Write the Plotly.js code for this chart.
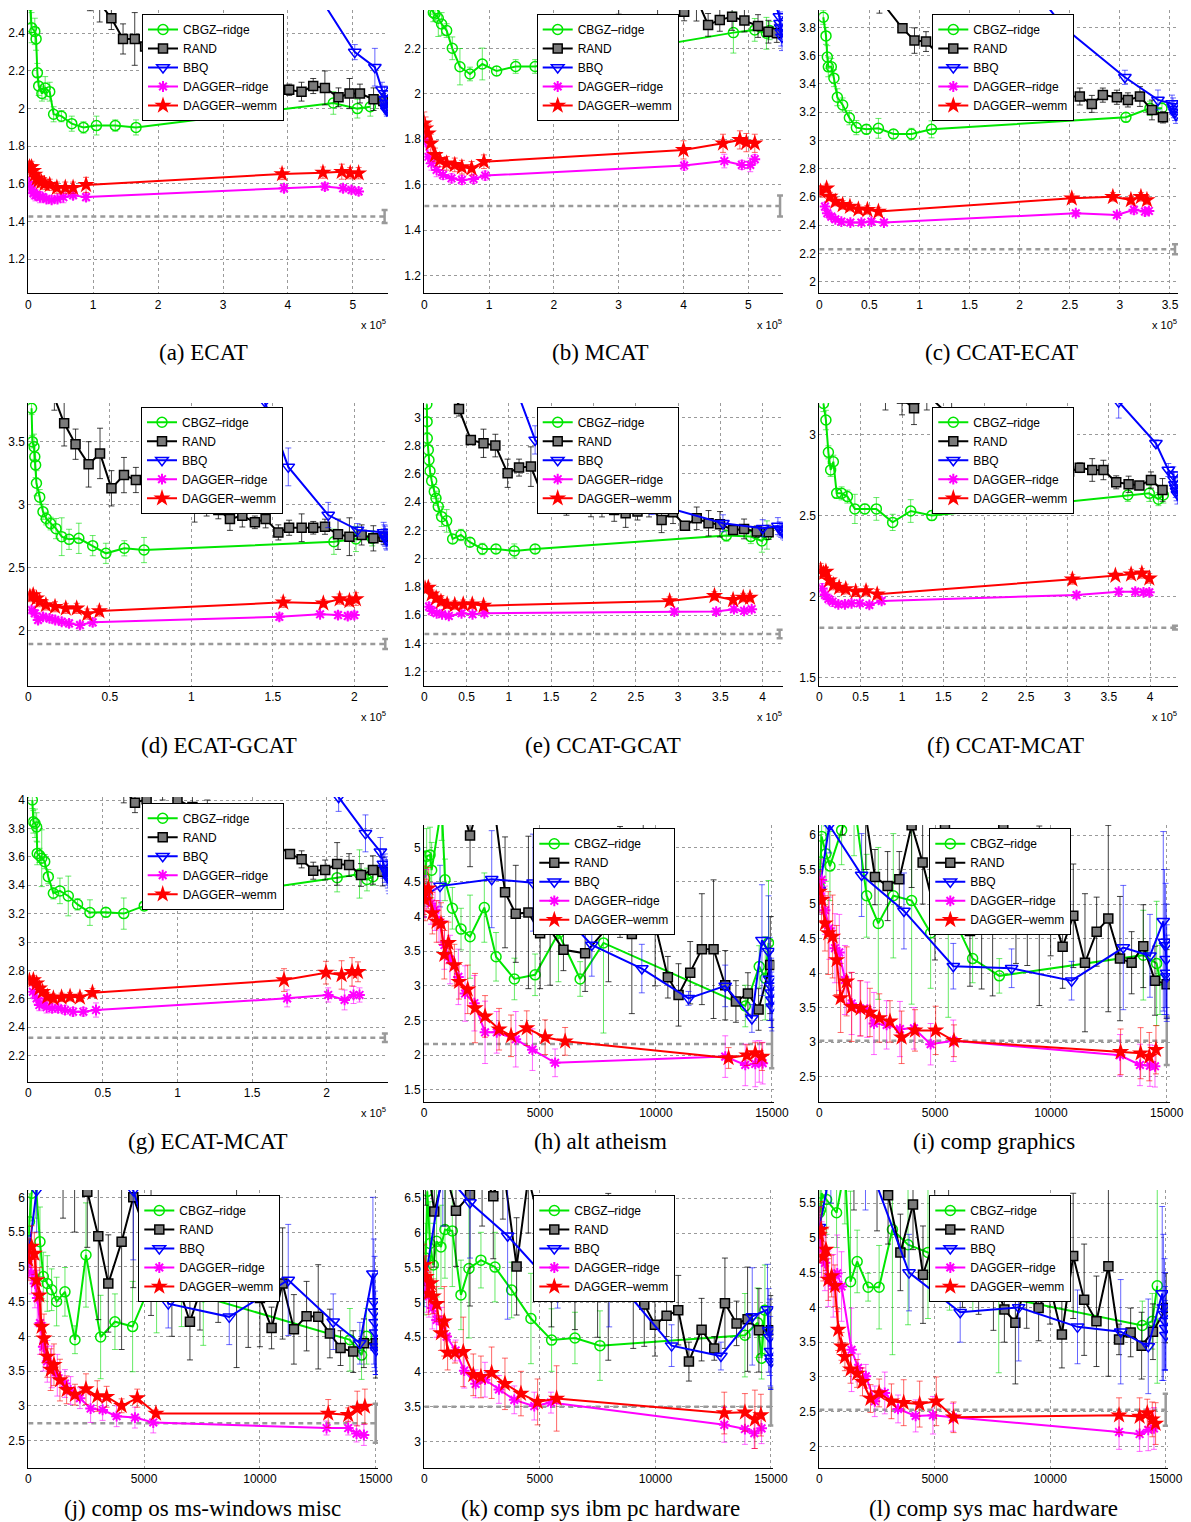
<!DOCTYPE html>
<html><head><meta charset="utf-8">
<script src="https://cdn.plot.ly/plotly-3.0.1.min.js"></script>
<style>html,body{margin:0;padding:0;background:#fff;} #chart{width:1191px;height:1522px;}</style>
</head><body><div id="chart"></div>
<script>
// ---------- DATA (x in units of 10^5 for panels a-g) ----------
const SERIES_NAMES = ['CBGZ–ridge','RAND','BBQ','DAGGER–ridge','DAGGER–wemm'];
const CAPTIONS = ['(a) ECAT','(b) MCAT','(c) CCAT-ECAT','(d) ECAT-GCAT','(e) CCAT-GCAT','(f) CCAT-MCAT','(g) ECAT-MCAT','(h) alt atheism','(i) comp graphics','(j) comp os ms-windows misc','(k) comp sys ibm pc hardware','(l) comp sys mac hardware'];

// (a) ECAT
const A_CBGZ_X=[0.03,0.05,0.10,0.12,0.14,0.16,0.21,0.26,0.33,0.39,0.51,0.67,0.85,1.05,1.34,1.66,4.70,5.07,5.27];
const A_CBGZ_Y=[2.55,2.43,2.41,2.37,2.19,2.12,2.08,2.11,2.09,1.97,1.96,1.92,1.90,1.91,1.91,1.90,2.03,2.00,2.01];
const A_CBGZ_E=[0.10,0.08,0.07,0.06,0.05,0.05,0.04,0.06,0.05,0.04,0.03,0.04,0.03,0.05,0.03,0.04,0.06,0.05,0.05];
const A_RAND_X=[0.05,0.30,0.60,0.95,1.10,1.28,1.46,1.64,1.80,2.00,2.20,2.40,2.60,2.80,3.00,3.20,3.40,3.60,3.83,4.02,4.21,4.39,4.57,4.78,4.95,5.11,5.32,5.47];
const A_RAND_Y=[3.20,2.90,2.75,2.62,2.56,2.48,2.37,2.37,2.33,2.30,2.27,2.24,2.21,2.19,2.17,2.15,2.13,2.12,2.11,2.10,2.09,2.12,2.11,2.06,2.08,2.08,2.05,2.04];
const A_RAND_E=[0.1,0.1,0.1,0.1,0.1,0.06,0.08,0.14,0.08,0.08,0.08,0.08,0.08,0.08,0.08,0.08,0.08,0.08,0.09,0.03,0.05,0.04,0.09,0.05,0.08,0.05,0.06,0.04];
const A_BBQ_X=[4.20,5.03,5.34,5.45,5.49,5.50,5.51,5.515,5.52,5.525];
const A_BBQ_Y=[2.75,2.30,2.22,2.10,2.08,2.05,2.03,2.01,2.00,1.99];
const A_BBQ_E=[0.05,0.04,0.10,0.04,0.04,0.04,0.04,0.03,0.03,0.03];
const A_DR_X=[0.01,0.03,0.05,0.08,0.11,0.14,0.18,0.22,0.28,0.36,0.45,0.54,0.69,0.89,3.94,4.57,4.85,4.98,5.09];
const A_DR_Y=[1.61,1.58,1.57,1.55,1.54,1.54,1.53,1.53,1.52,1.515,1.52,1.53,1.54,1.53,1.577,1.586,1.577,1.568,1.56];
const A_DR_E=[0.03,0.03,0.03,0.03,0.03,0.02,0.03,0.02,0.02,0.02,0.02,0.03,0.02,0.02,0.02,0.02,0.02,0.02,0.02];
const A_DW_X=[0.00,0.02,0.05,0.08,0.10,0.13,0.16,0.20,0.25,0.33,0.44,0.57,0.69,0.89,3.91,4.54,4.83,4.96,5.09];
const A_DW_Y=[1.68,1.69,1.69,1.67,1.65,1.63,1.62,1.61,1.60,1.595,1.58,1.58,1.58,1.595,1.653,1.66,1.665,1.657,1.657];
const A_DW_E=[0.03,0.03,0.03,0.03,0.03,0.03,0.03,0.03,0.03,0.03,0.03,0.03,0.03,0.04,0.03,0.03,0.04,0.03,0.03];
const A_BASE_X=[0,5.49], A_BASE_Y=[1.427,1.427], A_BASE_E=[0.035];

// (b) MCAT
const B_CBGZ_X=[0.10,0.14,0.165,0.216,0.267,0.345,0.432,0.55,0.705,0.895,1.116,1.41,1.71,4.77,5.10,5.28,5.33];
const B_CBGZ_Y=[2.40,2.357,2.351,2.332,2.307,2.278,2.20,2.119,2.087,2.131,2.10,2.12,2.12,2.269,2.281,2.266,2.278];
const B_CBGZ_E=[0.05,0.04,0.03,0.08,0.05,0.03,0.05,0.08,0.03,0.07,0.02,0.03,0.03,0.09,0.05,0.07,0.04];
const B_RAND_X=[0.2,1.0,2.0,3.0,3.6,4.01,4.20,4.38,4.56,4.75,4.94,5.15,5.31,5.44];
const B_RAND_Y=[3.0,2.7,2.55,2.45,2.42,2.361,2.42,2.303,2.325,2.339,2.322,2.298,2.273,2.266];
const B_RAND_E=[0.1,0.1,0.1,0.1,0.1,0.04,0.1,0.05,0.05,0.06,0.05,0.05,0.05,0.04];
const B_BBQ_X=[5.20,5.48,5.49,5.50,5.51,5.52];
const B_BBQ_Y=[2.60,2.34,2.31,2.29,2.27,2.25];
const B_BBQ_E=[0.05,0.05,0.05,0.05,0.06,0.06];
const B_DR_X=[0.01,0.06,0.11,0.19,0.29,0.42,0.58,0.76,0.94,4.01,4.63,4.90,5.03,5.10];
const B_DR_Y=[1.797,1.723,1.694,1.665,1.643,1.628,1.621,1.625,1.64,1.684,1.704,1.687,1.687,1.712];
const B_DR_E=[0.03,0.03,0.03,0.03,0.02,0.02,0.02,0.02,0.02,0.02,0.03,0.02,0.03,0.02];
const B_DW_X=[0.0,0.02,0.06,0.10,0.165,0.24,0.345,0.47,0.58,0.73,0.92,4.0,4.61,4.87,4.97,5.10];
const B_DW_Y=[1.87,1.848,1.826,1.782,1.731,1.709,1.694,1.687,1.677,1.672,1.701,1.753,1.782,1.797,1.785,1.782];
const B_DW_E=[0.05,0.05,0.04,0.04,0.03,0.03,0.03,0.03,0.03,0.03,0.03,0.04,0.04,0.04,0.04,0.04];
const B_BASE_X=[0,5.49], B_BASE_Y=[1.506,1.506], B_BASE_E=[0.046];

// (c) CCAT-ECAT
const C_CBGZ_X=[0.04,0.067,0.08,0.09,0.12,0.146,0.18,0.233,0.30,0.37,0.47,0.59,0.74,0.92,1.12,3.06,3.30,3.42];
const C_CBGZ_Y=[3.871,3.739,3.59,3.52,3.52,3.44,3.305,3.25,3.16,3.09,3.078,3.085,3.045,3.045,3.078,3.163,3.227,3.227];
const C_CBGZ_E=[0.05,0.06,0.08,0.07,0.06,0.06,0.06,0.05,0.05,0.05,0.03,0.07,0.03,0.04,0.06,0.03,0.05,0.04];
const C_RAND_X=[0.05,0.30,0.60,0.83,0.95,1.065,1.20,1.40,1.60,1.90,2.10,2.26,2.37,2.48,2.60,2.72,2.83,2.97,3.08,3.20,3.32,3.43];
const C_RAND_Y=[4.8,4.3,4.0,3.793,3.706,3.699,3.60,3.50,3.42,3.32,3.33,3.33,3.32,3.31,3.31,3.258,3.32,3.305,3.286,3.31,3.215,3.163];
const C_RAND_E=[0.1,0.1,0.1,0.03,0.09,0.07,0.08,0.08,0.08,0.06,0.06,0.05,0.06,0.05,0.06,0.06,0.05,0.05,0.05,0.07,0.07,0.04];
const C_BBQ_X=[1.0,2.0,2.44,3.05,3.38,3.52,3.53,3.54,3.55,3.56];
const C_BBQ_Y=[5.0,4.2,3.80,3.446,3.286,3.26,3.24,3.22,3.20,3.18];
const C_BBQ_E=[0.05,0.05,0.05,0.05,0.07,0.06,0.06,0.06,0.06,0.06];
const C_DR_X=[0.057,0.08,0.12,0.16,0.22,0.31,0.42,0.52,0.645,2.56,2.97,3.14,3.25,3.29];
const C_DR_Y=[2.531,2.484,2.46,2.441,2.425,2.418,2.418,2.425,2.418,2.484,2.472,2.508,2.496,2.50];
const C_DR_E=[0.03,0.03,0.02,0.02,0.02,0.02,0.02,0.02,0.02,0.02,0.02,0.03,0.03,0.02];
const C_DW_X=[0.013,0.073,0.106,0.16,0.233,0.306,0.39,0.48,0.59,2.52,2.93,3.11,3.21,3.27];
const C_DW_Y=[2.637,2.66,2.602,2.566,2.543,2.531,2.512,2.508,2.496,2.59,2.60,2.578,2.60,2.578];
const C_DW_E=[0.04,0.03,0.03,0.03,0.03,0.03,0.03,0.03,0.03,0.03,0.03,0.03,0.03,0.03];
const C_BASE_X=[0,3.55], C_BASE_Y=[2.229,2.229], C_BASE_E=[0.035];

// (d) ECAT-GCAT
const D_CBGZ_X=[0.020,0.025,0.035,0.040,0.045,0.05,0.07,0.09,0.11,0.137,0.17,0.205,0.25,0.31,0.395,0.476,0.589,0.71,1.875,2.01,2.11];
const D_CBGZ_Y=[3.765,3.50,3.46,3.38,3.315,3.17,3.06,2.944,2.89,2.85,2.81,2.746,2.725,2.733,2.675,2.614,2.654,2.64,2.706,2.728,2.733];
const D_CBGZ_E=[0.05,0.05,0.1,0.1,0.1,0.1,0.06,0.06,0.05,0.05,0.08,0.15,0.08,0.12,0.08,0.08,0.06,0.1,0.1,0.1,0.06];
const D_RAND_X=[0.05,0.16,0.22,0.29,0.37,0.44,0.51,0.587,0.66,0.726,0.80,0.88,0.947,1.02,1.094,1.166,1.237,1.313,1.39,1.456,1.534,1.60,1.677,1.748,1.82,1.90,1.97,2.045,2.117,2.18];
const D_RAND_Y=[4.3,3.85,3.646,3.48,3.32,3.407,3.13,3.235,3.196,3.143,3.13,3.05,3.01,3.082,3.01,2.958,2.886,2.913,2.86,2.886,2.78,2.817,2.817,2.817,2.825,2.765,2.746,2.76,2.733,2.746];
const D_RAND_E=[0.1,0.1,0.18,0.12,0.18,0.2,0.14,0.14,0.1,0.12,0.12,0.12,0.04,0.22,0.1,0.07,0.09,0.09,0.05,0.07,0.06,0.06,0.11,0.05,0.06,0.12,0.15,0.08,0.1,0.06];
const D_BBQ_X=[1.20,1.45,1.595,1.84,2.02,2.18,2.185,2.19,2.195,2.20];
const D_BBQ_Y=[4.5,3.82,3.30,2.918,2.80,2.78,2.76,2.75,2.73,2.72];
const D_BBQ_E=[0.1,0.1,0.15,0.1,0.05,0.08,0.08,0.08,0.08,0.08];
const D_DR_X=[0.02,0.04,0.06,0.09,0.13,0.165,0.205,0.25,0.317,0.395,1.54,1.79,1.90,1.96,2.00];
const D_DR_Y=[2.164,2.138,2.085,2.11,2.098,2.085,2.071,2.058,2.045,2.066,2.11,2.13,2.124,2.116,2.124];
const D_DR_E=[0.03,0.03,0.03,0.03,0.03,0.03,0.03,0.03,0.03,0.03,0.03,0.02,0.03,0.03,0.03];
const D_DW_X=[0.01,0.03,0.05,0.07,0.108,0.164,0.23,0.297,0.362,0.436,1.564,1.81,1.91,1.97,2.01];
const D_DW_Y=[2.27,2.283,2.257,2.23,2.204,2.19,2.177,2.177,2.132,2.156,2.225,2.217,2.251,2.236,2.251];
const D_DW_E=[0.04,0.04,0.04,0.04,0.04,0.04,0.04,0.04,0.04,0.04,0.04,0.03,0.04,0.04,0.05];
const D_BASE_X=[0,2.19], D_BASE_Y=[1.894,1.894], D_BASE_E=[0.04];

// (e) CCAT-GCAT
const E_CBGZ_X=[0.03,0.033,0.035,0.047,0.055,0.067,0.087,0.118,0.138,0.165,0.205,0.264,0.335,0.433,0.54,0.686,0.847,1.064,1.31,3.57,3.86,3.99,4.05];
const E_CBGZ_Y=[3.092,2.969,2.851,2.769,2.698,2.62,2.55,2.474,2.427,2.368,2.297,2.267,2.139,2.167,2.116,2.068,2.068,2.054,2.068,2.163,2.156,2.125,2.167];
const E_CBGZ_E=[0.03,0.03,0.04,0.04,0.04,0.04,0.05,0.05,0.05,0.06,0.07,0.08,0.03,0.04,0.03,0.04,0.03,0.05,0.03,0.04,0.05,0.08,0.1];
const E_RAND_X=[0.30,0.41,0.55,0.70,0.84,0.985,1.12,1.26,1.41,1.545,1.68,1.82,1.97,2.10,2.245,2.38,2.52,2.656,2.805,2.94,3.08,3.22,3.36,3.495,3.65,3.78,3.93,4.07];
const E_RAND_Y=[3.4,3.059,2.84,2.816,2.80,2.604,2.644,2.651,2.427,2.498,2.427,2.479,2.396,2.415,2.344,2.321,2.333,2.375,2.274,2.328,2.233,2.285,2.25,2.243,2.203,2.21,2.191,2.186];
const E_RAND_E=[0.1,0.05,0.03,0.1,0.08,0.1,0.06,0.14,0.07,0.1,0.12,0.14,0.1,0.12,0.08,0.1,0.06,0.08,0.09,0.08,0.03,0.08,0.09,0.09,0.03,0.07,0.04,0.05];
const E_BBQ_X=[0.90,1.31,1.80,2.69,3.53,4.00,4.18,4.20,4.22,4.24,4.26];
const E_BBQ_Y=[3.50,2.84,2.51,2.392,2.25,2.215,2.23,2.21,2.20,2.19,2.18];
const E_BBQ_E=[0.1,0.1,0.05,0.08,0.06,0.06,0.06,0.05,0.05,0.05,0.05];
const E_DR_X=[0.055,0.09,0.146,0.21,0.29,0.44,0.57,0.71,2.955,3.45,3.66,3.78,3.87];
const E_DR_Y=[1.66,1.63,1.613,1.606,1.594,1.613,1.606,1.613,1.625,1.625,1.642,1.63,1.642];
const E_DR_E=[0.03,0.03,0.02,0.02,0.02,0.02,0.02,0.02,0.02,0.02,0.02,0.02,0.02];
const E_DW_X=[0.008,0.047,0.087,0.14,0.197,0.27,0.36,0.46,0.567,0.70,2.90,3.43,3.65,3.77,3.85];
const E_DW_Y=[1.79,1.795,1.748,1.72,1.696,1.677,1.672,1.677,1.677,1.667,1.70,1.736,1.708,1.724,1.724];
const E_DW_E=[0.03,0.03,0.03,0.03,0.03,0.03,0.03,0.03,0.03,0.03,0.03,0.03,0.03,0.03,0.03];
const E_BASE_X=[0,4.2], E_BASE_Y=[1.467,1.467], E_BASE_E=[0.03];

// (f) CCAT-MCAT
const F_CBGZ_X=[0.05,0.08,0.11,0.137,0.17,0.21,0.27,0.34,0.43,0.55,0.69,0.887,1.105,1.36,3.73,3.99,4.10,4.16];
const F_CBGZ_Y=[3.19,3.088,2.889,2.78,2.831,2.636,2.636,2.616,2.54,2.54,2.54,2.457,2.527,2.499,2.626,2.636,2.60,2.626];
const F_CBGZ_E=[0.05,0.06,0.04,0.04,0.04,0.03,0.04,0.04,0.09,0.03,0.07,0.05,0.07,0.03,0.04,0.05,0.04,0.05];
const F_RAND_X=[0.05,0.50,0.80,1.00,1.145,1.30,1.60,1.90,2.20,2.50,2.80,3.02,3.15,3.30,3.435,3.59,3.74,3.87,4.01,4.15];
const F_RAND_Y=[4.2,3.5,3.3,3.22,3.16,3.25,3.10,3.00,2.92,2.86,2.80,2.77,2.794,2.78,2.78,2.704,2.692,2.684,2.718,2.657];
const F_RAND_E=[0.1,0.1,0.15,0.1,0.1,0.1,0.1,0.1,0.1,0.1,0.1,0.08,0.03,0.07,0.06,0.04,0.05,0.02,0.05,0.07];
const F_BBQ_X=[3.00,3.62,4.07,4.22,4.28,4.29,4.30,4.31,4.32,4.33];
const F_BBQ_Y=[3.80,3.20,2.945,2.78,2.75,2.72,2.69,2.67,2.65,2.63];
const F_BBQ_E=[0.1,0.1,0.02,0.04,0.05,0.05,0.05,0.06,0.06,0.06];
const F_DR_X=[0.036,0.07,0.11,0.16,0.23,0.31,0.39,0.49,0.605,0.754,3.11,3.62,3.82,3.92,3.99];
const F_DR_Y=[2.05,2.01,1.985,1.968,1.952,1.952,1.958,1.958,1.948,1.973,2.009,2.03,2.03,2.026,2.026];
const F_DR_E=[0.03,0.03,0.03,0.03,0.02,0.02,0.02,0.02,0.02,0.02,0.02,0.02,0.02,0.02,0.02];
const F_DW_X=[0.016,0.05,0.08,0.12,0.17,0.24,0.32,0.44,0.565,0.70,3.06,3.58,3.77,3.90,3.99];
const F_DW_Y=[2.164,2.143,2.153,2.10,2.071,2.055,2.046,2.03,2.034,2.014,2.106,2.129,2.137,2.143,2.112];
const F_DW_E=[0.04,0.03,0.03,0.03,0.03,0.03,0.03,0.03,0.03,0.03,0.03,0.02,0.03,0.03,0.03];
const F_BASE_X=[0,4.3], F_BASE_Y=[1.808,1.808], F_BASE_E=[0.012];

// (g) ECAT-MCAT
const G_CBGZ_X=[0.027,0.034,0.045,0.056,0.06,0.075,0.09,0.11,0.134,0.168,0.212,0.268,0.33,0.413,0.52,0.64,0.777,2.07,2.22,2.27,2.31];
const G_CBGZ_Y=[4.0,3.847,3.836,3.81,3.624,3.61,3.59,3.566,3.46,3.343,3.36,3.324,3.265,3.207,3.209,3.20,3.254,3.453,3.479,3.44,3.46];
const G_CBGZ_E=[0.06,0.08,0.1,0.1,0.08,0.05,0.2,0.05,0.05,0.04,0.09,0.14,0.04,0.09,0.03,0.11,0.02,0.1,0.17,0.08,0.06];
const G_RAND_X=[0.05,0.30,0.64,0.715,0.793,0.90,1.00,1.10,1.20,1.30,1.40,1.50,1.60,1.676,1.754,1.832,1.91,1.99,2.07,2.15,2.23,2.31,2.375];
const G_RAND_Y=[5.0,4.4,4.08,3.981,4.005,4.1,4.0,3.95,3.9,3.85,3.8,3.75,3.7,3.676,3.62,3.582,3.502,3.507,3.55,3.542,3.472,3.507,3.495];
const G_RAND_E=[0.1,0.1,0.1,0.07,0.1,0.1,0.1,0.1,0.1,0.1,0.1,0.1,0.14,0.03,0.03,0.06,0.06,0.07,0.15,0.08,0.08,0.1,0.1];
const G_BBQ_X=[1.70,2.08,2.26,2.36,2.38,2.39,2.40,2.41,2.415,2.42];
const G_BBQ_Y=[4.6,4.02,3.765,3.636,3.55,3.52,3.50,3.48,3.46,3.44];
const G_BBQ_E=[0.1,0.1,0.13,0.1,0.1,0.1,0.1,0.1,0.1,0.1];
const G_DR_X=[0.03,0.056,0.074,0.10,0.123,0.16,0.2,0.246,0.30,0.369,0.454,1.735,2.01,2.12,2.18,2.22];
const G_DR_Y=[2.65,2.603,2.556,2.568,2.54,2.533,2.533,2.521,2.509,2.509,2.521,2.603,2.627,2.592,2.627,2.627];
const G_DR_E=[0.04,0.04,0.04,0.04,0.04,0.03,0.03,0.03,0.03,0.03,0.05,0.06,0.05,0.07,0.06,0.05];
const G_DW_X=[0.007,0.034,0.056,0.075,0.096,0.127,0.168,0.223,0.28,0.346,0.43,1.714,1.995,2.10,2.17,2.21];
const G_DW_Y=[2.728,2.732,2.709,2.674,2.65,2.615,2.603,2.61,2.615,2.61,2.643,2.732,2.784,2.768,2.79,2.79];
const G_DW_E=[0.03,0.03,0.03,0.03,0.03,0.03,0.03,0.03,0.03,0.03,0.03,0.08,0.08,0.1,0.1,0.07];
const G_BASE_X=[0,2.39], G_BASE_Y=[2.326,2.326], G_BASE_E=[0.03];

// (h) alt atheism
const H_CBGZ_X=[30,115,260,330,762,906,1222,1596,1985,2600,3106,3897,4789,5795,6730,7737,13850,14450,14710,14850];
const H_CBGZ_Y=[4.55,4.87,4.89,4.67,5.60,4.53,4.12,3.82,3.71,4.13,3.42,3.10,3.16,3.76,3.10,3.62,2.71,3.28,3.11,3.62];
const H_CBGZ_E=[0.4,0.4,0.4,0.4,0.5,0.3,0.3,0.3,0.6,0.5,0.35,0.3,0.3,0.7,0.25,1.3,0.3,0.3,0.6,0.9];
const H_RAND_X=[100,1300,1985,2800,3494,3955,4501,5005,5436,6011,6946,7952,8450,8959,9450,9965,10512,10972,11475,11979,12482,12985,13445,13963,14423,14926];
const H_RAND_Y=[6.5,6.0,5.17,6.2,4.35,4.04,4.06,3.76,3.81,3.52,3.47,3.86,4.5,3.75,4.6,3.90,3.125,2.87,3.19,3.53,3.53,3.01,2.775,2.89,2.66,3.30];
const H_RAND_E=[0.6,0.6,0.45,0.6,0.8,0.7,1.1,0.8,0.8,0.3,0.55,0.8,0.8,1.15,0.8,0.9,0.3,0.45,0.45,0.8,1.0,0.5,0.3,0.3,0.3,0.7];
const H_BBQ_X=[0,690,2919,4700,7233,9390,11403,12985,14135,14567,14850,14900,14950,14975,15000,15010];
const H_BBQ_Y=[4.29,4.44,4.54,4.49,3.59,3.25,2.82,3.00,2.53,3.66,3.50,3.10,3.00,2.90,2.80,2.70];
const H_BBQ_E=[0.3,0.3,0.7,0.7,0.45,0.35,0.1,0.3,0.2,0.8,0.8,0.6,0.5,0.5,0.4,0.35];
const H_DR_X=[0,100,300,475,647,877,1122,1481,1769,2171,2632,3135,3955,4674,5651,12985,13848,14279,14450,14600];
const H_DR_Y=[4.29,4.38,4.19,4.10,3.93,3.59,3.38,3.13,2.89,2.75,2.33,2.33,2.23,2.08,1.89,1.98,1.86,1.875,1.91,1.885];
const H_DR_E=[0.3,0.3,0.3,0.3,0.3,0.35,0.35,0.4,0.4,0.4,0.45,0.3,0.4,0.3,0.2,0.3,0.3,0.33,0.3,0.3];
const H_DW_X=[0,43,187,360,546,733,877,1050,1309,1510,1884,2200,2632,3236,3753,4429,5220,6083,13129,13920,14279,14567];
const H_DW_Y=[4.38,4.24,4.41,4.05,3.93,3.90,3.45,3.62,3.30,3.06,2.95,2.68,2.56,2.375,2.28,2.39,2.26,2.20,1.96,2.00,2.03,1.98];
const H_DW_E=[0.35,0.3,0.3,0.3,0.3,0.3,0.35,0.3,0.3,0.25,0.35,0.5,0.3,0.3,0.3,0.25,0.25,0.2,0.15,0.15,0.15,0.2];
const H_BASE_X=[0,15000], H_BASE_Y=[2.163,2.163], H_BASE_E=[0.35];

// (i) comp graphics
const I_CBGZ_X=[0,50,100,288,460,964,1500,2043,2547,3195,3986,4806,5569,6619,7771,13987,14563,14707];
const I_CBGZ_Y=[5.25,5.61,5.98,5.73,5.55,6.07,6.5,5.12,4.72,5.12,5.05,4.58,4.96,4.21,3.96,4.26,4.14,3.90];
const I_CBGZ_E=[0.4,0.4,0.4,0.4,0.5,0.5,0.8,0.6,1.1,0.9,1.5,0.8,1.6,0.35,0.25,0.65,0.9,0.5];
const I_RAND_X=[100,1000,2000,2403,2950,3454,3986,4461,4993,5425,6504,7008,7483,7943,8490,8980,9497,9987,10505,10965,11469,11973,12476,12980,13483,13987,14491,14994];
const I_RAND_Y=[7.0,6.8,6.3,5.39,5.26,5.36,6.14,5.60,4.89,6.11,4.61,4.77,4.77,6.12,4.94,4.71,4.83,4.95,4.38,4.83,4.15,4.60,4.79,4.21,4.15,4.39,3.89,3.84];
const I_RAND_E=[0.8,0.8,0.8,0.4,0.5,0.4,0.9,0.6,0.7,0.9,0.8,1.0,1.1,0.9,0.8,0.6,1.3,0.7,0.6,0.75,1.0,0.5,1.35,0.9,0.45,0.6,0.5,0.5];
const I_BBQ_X=[0,432,1827,3655,5785,8303,10893,13123,14275,14850,14900,14950,14980,15000,15010];
const I_BBQ_Y=[5.20,6.14,5.42,4.90,4.10,4.07,3.89,4.37,4.25,4.75,4.45,4.40,4.20,4.00,3.95];
const I_BBQ_E=[0.3,0.4,0.6,0.55,0.33,0.28,0.28,0.9,0.6,1.3,1.05,0.9,0.8,0.7,0.6];
const I_DR_X=[0,100,245,432,676,863,1108,1396,1756,2072,2360,2907,3482,4087,4806,5785,12980,13843,14275,14491];
const I_DR_Y=[5.15,5.35,4.91,4.65,4.36,4.30,3.90,3.56,3.49,3.47,3.27,3.25,3.19,3.20,2.97,3.02,2.81,2.67,2.66,2.65];
const I_DR_E=[0.3,0.3,0.35,0.45,0.5,0.55,0.5,0.45,0.4,0.4,0.45,0.35,0.4,0.3,0.3,0.3,0.3,0.3,0.3,0.3];
const I_DW_X=[0,100,245,388,576,748,921,1180,1396,1784,2187,2590,3051,3554,4130,5022,5814,13008,13872,14246,14534];
const I_DW_Y=[5.18,5.06,4.72,4.58,4.53,4.19,3.64,3.88,3.51,3.49,3.43,3.35,3.30,3.07,3.17,3.17,3.02,2.86,2.84,2.79,2.89];
const I_DW_E=[0.3,0.3,0.4,0.6,0.6,0.5,0.5,0.5,0.5,0.4,0.35,0.35,0.3,0.38,0.3,0.35,0.23,0.33,0.37,0.35,0.35];
const I_BASE_X=[0,15000], I_BASE_Y=[3.02,3.02], I_BASE_E=[0.35];

// (j) comp os ms-windows misc
const J_CBGZ_X=[0,50,144,300,504,648,820,1007,1223,1583,2015,2490,3123,3741,4504,5540,6619,7555,13887,14390,14606];
const J_CBGZ_Y=[5.31,5.65,6.06,6.3,5.36,4.86,4.76,4.67,4.50,4.64,3.95,5.17,3.99,4.21,4.14,4.95,4.64,4.57,3.95,3.73,4.00];
const J_CBGZ_E=[0.4,0.4,0.4,0.6,0.5,0.35,0.4,0.3,0.35,0.35,0.2,0.75,0.6,0.4,0.65,0.9,0.5,0.7,0.45,0.35,0.4];
const J_RAND_X=[100,1500,2000,2547,3022,3454,4029,4533,5300,6200,6979,7411,8200,8994,9497,10001,10505,10980,11469,12016,12519,13023,13483,14030,14491,15009];
const J_RAND_Y=[7.0,6.5,6.3,6.08,5.44,4.76,5.36,6.0,5.3,5.0,4.21,4.64,5.0,4.9,4.74,4.55,4.12,4.76,4.10,4.29,4.28,4.04,3.83,3.78,3.90,3.90];
const J_RAND_E=[0.8,0.8,0.8,0.8,1.2,0.7,1.55,1.3,1.0,1.0,0.55,0.55,0.8,1.35,0.9,0.7,0.3,0.8,0.5,0.5,0.75,0.35,0.25,0.3,0.35,0.5];
const J_BBQ_X=[0,360,2000,4533,6044,8677,11224,13167,14318,14880,14920,14950,14975,15000,15010,15020];
const J_BBQ_Y=[5.15,6.10,7.0,6.10,4.47,4.28,4.81,4.21,3.90,4.90,4.50,4.35,4.20,4.05,3.85,3.80];
const J_BBQ_E=[0.3,0.6,0.8,1.0,0.35,0.4,0.8,0.4,0.3,1.1,0.9,0.8,0.7,0.6,0.4,0.35];
const J_DR_X=[0,144,288,389,504,648,820,1007,1252,1583,1827,2230,2691,3209,3813,4605,5396,12879,13814,14174,14491];
const J_DR_Y=[5.12,4.91,4.76,4.55,4.19,3.85,3.64,3.56,3.44,3.32,3.22,3.11,2.96,2.94,2.85,2.83,2.76,2.68,2.68,2.60,2.58];
const J_DR_E=[0.3,0.3,0.35,0.4,0.45,0.35,0.3,0.3,0.3,0.2,0.2,0.15,0.2,0.15,0.15,0.15,0.15,0.1,0.1,0.12,0.15];
const J_DW_X=[0,144,259,360,475,576,676,820,964,1108,1367,1655,2015,2490,2979,3382,4029,4706,5511,12951,13814,14203,14534];
const J_DW_Y=[5.10,5.29,5.19,4.81,4.59,4.14,3.97,3.71,3.52,3.59,3.37,3.23,3.16,3.24,3.14,3.13,3.00,3.11,2.89,2.89,2.87,2.96,2.99];
const J_DW_E=[0.3,0.3,0.3,0.3,0.4,0.4,0.35,0.3,0.3,0.3,0.3,0.2,0.15,0.22,0.22,0.15,0.1,0.13,0.05,0.2,0.1,0.25,0.25];
const J_BASE_X=[0,15000], J_BASE_Y=[2.75,2.75], J_BASE_E=[0.28];

// (k) comp sys ibm pc hardware
const K_CBGZ_X=[0,60,130,245,389,533,721,894,1211,1586,1932,2451,3057,3778,4614,5508,6518,7599,13872,14420,14593,14737];
const K_CBGZ_Y=[5.32,5.64,6.6,5.85,5.54,5.88,5.80,6.05,6.03,5.11,5.49,5.61,5.51,5.18,4.77,4.46,4.49,4.38,4.53,4.71,4.20,4.89];
const K_CBGZ_E=[0.5,0.5,0.6,0.6,0.6,0.8,0.6,0.7,0.8,0.5,1.0,0.4,0.5,0.4,0.65,0.45,0.37,0.5,0.6,0.5,0.3,0.65];
const K_RAND_X=[50,433,900,1370,1976,2500,2985,3400,3994,4500,5500,6518,7498,7960,9041,9517,9979,10483,10988,11449,11998,12545,13007,13511,13987,14477,14997];
const K_RAND_Y=[7.2,6.31,6.9,6.32,6.55,6.9,6.53,7.0,5.52,6.8,5.45,5.41,5.40,5.37,5.24,4.97,4.68,4.81,4.89,4.15,4.61,4.34,4.99,4.70,4.76,4.60,4.60];
const K_RAND_E=[0.8,0.8,0.8,0.8,1.6,0.8,0.9,0.8,0.7,0.8,0.8,0.8,0.9,1.2,0.9,0.6,0.45,0.3,0.5,0.28,0.45,0.17,0.65,0.32,0.75,0.6,0.5];
const K_BBQ_X=[0,800,1976,3605,5768,8000,10700,12834,14189,14850,14900,14950,14980,15000,15010];
const K_BBQ_Y=[5.24,6.9,6.44,5.96,5.17,5.45,4.38,4.23,4.80,4.90,4.60,4.50,4.30,4.20,4.15];
const K_BBQ_E=[0.3,0.8,0.8,1.2,0.25,0.8,0.3,0.2,0.7,0.65,0.6,0.55,0.5,0.45,0.4];
const K_DR_X=[0,100,200,346,533,750,966,1355,1730,2221,2624,3230,3893,4758,5480,12978,13872,14276,14593];
const K_DR_Y=[5.37,5.16,5.09,4.92,4.75,4.73,4.51,4.31,4.02,3.83,3.89,3.75,3.60,3.51,3.56,3.24,3.18,3.12,3.19];
const K_DR_E=[0.3,0.3,0.3,0.3,0.25,0.2,0.2,0.15,0.25,0.2,0.25,0.2,0.2,0.2,0.15,0.25,0.22,0.22,0.22];
const K_DW_X=[0,80,173,288,389,533,721,865,1009,1327,1687,2120,2451,2913,3490,4182,4903,5725,12978,13872,14304,14564];
const K_DW_Y=[5.54,5.37,5.13,5.28,5.09,4.98,4.56,4.73,4.28,4.28,4.29,3.96,3.93,3.99,3.83,3.69,3.57,3.62,3.41,3.42,3.32,3.38];
const K_DW_E=[0.3,0.3,0.3,0.3,0.25,0.25,0.25,0.5,0.25,0.15,0.5,0.3,0.3,0.37,0.37,0.32,0.33,0.47,0.3,0.27,0.42,0.3];
const K_BASE_X=[0,15000], K_BASE_Y=[3.50,3.50], K_BASE_E=[0.27];

// (l) comp sys mac hardware
const L_CBGZ_X=[0,50,100,317,748,1108,1353,1640,2115,2590,3166,3842,4706,5641,6648,7771,13987,14419,14635];
const L_CBGZ_Y=[5.36,5.40,5.64,5.55,5.36,6.0,4.37,4.66,4.29,4.29,5.12,4.90,4.79,4.76,4.64,4.16,3.74,3.80,4.31];
const L_CBGZ_E=[0.4,0.4,0.5,0.5,0.5,0.8,1.3,0.45,0.2,0.6,1.8,1.15,0.95,0.8,0.7,1.1,0.35,0.4,1.4];
const L_RAND_X=[100,1500,2500,2979,3511,4058,4490,5000,5600,6200,6900,7540,8015,8490,8980,9497,9987,10505,10994,11469,12001,12519,12980,13483,13958,14448,15023];
const L_RAND_Y=[6.5,6.2,5.9,5.61,4.79,5.48,4.47,5.0,4.9,4.8,4.7,4.47,3.97,3.78,4.4,3.99,4.31,3.61,4.74,4.11,3.80,4.59,3.54,3.64,3.45,3.65,3.99];
const L_RAND_E=[0.8,0.8,0.8,0.7,0.55,0.65,0.7,0.8,0.8,0.8,0.8,0.8,0.47,0.88,0.7,0.47,0.55,0.48,0.9,0.8,0.65,1.58,0.22,0.35,0.48,0.4,0.5];
const L_BBQ_X=[0,500,2000,3885,6101,8634,11181,13052,14246,14850,14900,14950,14980,15000,15010];
const L_BBQ_Y=[5.15,6.0,6.2,4.50,3.93,4.00,3.72,3.65,3.44,4.20,4.00,3.90,3.80,3.70,3.60];
const L_BBQ_E=[0.3,0.5,0.8,0.55,0.43,0.77,0.53,0.75,0.68,1.25,1.05,0.8,0.7,0.6,0.5];
const L_DR_X=[0,100,245,389,604,777,964,1396,1683,2015,2403,2835,3410,4173,4921,5785,12980,13872,14246,14491];
const L_DR_Y=[5.04,4.83,4.64,4.41,4.31,4.49,4.30,3.39,3.13,3.01,2.65,2.77,2.54,2.44,2.45,2.42,2.21,2.18,2.24,2.26];
const L_DR_E=[0.4,0.4,0.4,0.4,0.45,0.55,0.5,0.6,0.2,0.17,0.22,0.3,0.2,0.23,0.27,0.2,0.25,0.25,0.3,0.3];
const L_DW_X=[0,80,173,288,389,533,676,820,964,1108,1353,1640,1871,2216,2590,3123,3655,4346,5065,5814,12980,13872,14203,14419,14563];
const L_DW_Y=[5.04,5.12,4.73,4.83,4.40,4.45,4.31,3.68,3.44,3.29,3.11,3.05,2.93,2.69,2.77,2.65,2.63,2.61,2.65,2.42,2.45,2.43,2.48,2.39,2.33];
const L_DW_E=[0.4,0.4,0.35,0.3,0.3,0.3,0.3,0.3,0.2,0.2,0.2,0.2,0.2,0.2,0.2,0.25,0.33,0.33,0.35,0.22,0.25,0.27,0.2,0.25,0.3];
const L_BASE_X=[0,15000], L_BASE_Y=[2.53,2.53], L_BASE_E=[0.23];

// ---------- LAYOUT / STYLE ----------
const W=1191, H=1522;
const STYLES=[
  {color:'#00e600', err:'rgba(0,220,0,0.6)', symbol:'circle-open', size:10, lw:1.5},
  {color:'#000000', err:'rgba(0,0,0,0.75)', symbol:'square', size:9, lw:1.5, fill:'#7a7a7a'},
  {color:'#0000ff', err:'rgba(0,0,255,0.6)', symbol:'triangle-down-open', size:11, lw:1.5},
  {color:'#ff00ff', err:'rgba(255,0,255,0.6)', symbol:'asterisk-open', size:9, lw:2},
  {color:'#ff0000', err:'rgba(255,0,0,0.6)', symbol:'star', size:13, lw:0}
];
// panel geometry in page pixels
const PANELS=[
 {d:[[A_CBGZ_X,A_CBGZ_Y,A_CBGZ_E],[A_RAND_X,A_RAND_Y,A_RAND_E],[A_BBQ_X,A_BBQ_Y,A_BBQ_E],[A_DR_X,A_DR_Y,A_DR_E],[A_DW_X,A_DW_Y,A_DW_E]], b:[A_BASE_X,A_BASE_Y,A_BASE_E],
  px:[28.3,388], py:[10,293.3], xr:[0,5.5424], yr:[1.0192,2.5237], dx:1, dy:0.2, leg:[142,14], cap:[203,352], sci:[373,324]},
 {d:[[B_CBGZ_X,B_CBGZ_Y,B_CBGZ_E],[B_RAND_X,B_RAND_Y,B_RAND_E],[B_BBQ_X,B_BBQ_Y,B_BBQ_E],[B_DR_X,B_DR_Y,B_DR_E],[B_DW_X,B_DW_Y,B_DW_E]], b:[B_BASE_X,B_BASE_Y,B_BASE_E],
  px:[424.3,783], py:[10,293.3], xr:[0,5.5355], yr:[1.1221,2.3685], dx:1, dy:0.2, leg:[536.7,14], cap:[600,352], sci:[769,324]},
 {d:[[C_CBGZ_X,C_CBGZ_Y,C_CBGZ_E],[C_RAND_X,C_RAND_Y,C_RAND_E],[C_BBQ_X,C_BBQ_Y,C_BBQ_E],[C_DR_X,C_DR_Y,C_DR_E],[C_DW_X,C_DW_Y,C_DW_E]], b:[C_BASE_X,C_BASE_Y,C_BASE_E],
  px:[819.3,1178], py:[10,293.3], xr:[0,3.58], yr:[1.9175,3.9224], dx:0.5, dy:0.2, leg:[932.3,14], cap:[1001,352], sci:[1164,324]},
 {d:[[D_CBGZ_X,D_CBGZ_Y,D_CBGZ_E],[D_RAND_X,D_RAND_Y,D_RAND_E],[D_BBQ_X,D_BBQ_Y,D_BBQ_E],[D_DR_X,D_DR_Y,D_DR_E],[D_DW_X,D_DW_Y,D_DW_E]], b:[D_BASE_X,D_BASE_Y,D_BASE_E],
  px:[28.3,388], py:[403,686], xr:[0,2.2067], yr:[1.561,3.8071], dx:0.5, dy:0.5, leg:[141,406.7], cap:[219,745], sci:[373,716]},
 {d:[[E_CBGZ_X,E_CBGZ_Y,E_CBGZ_E],[E_RAND_X,E_RAND_Y,E_RAND_E],[E_BBQ_X,E_BBQ_Y,E_BBQ_E],[E_DR_X,E_DR_Y,E_DR_E],[E_DW_X,E_DW_Y,E_DW_E]], b:[E_BASE_X,E_BASE_Y,E_BASE_E],
  px:[424.3,783], py:[403,686], xr:[0,4.24], yr:[1.0984,3.1012], dx:0.5, dy:0.2, leg:[536.7,406.7], cap:[603,745], sci:[769,716]},
 {d:[[F_CBGZ_X,F_CBGZ_Y,F_CBGZ_E],[F_RAND_X,F_RAND_Y,F_RAND_E],[F_BBQ_X,F_BBQ_Y,F_BBQ_E],[F_DR_X,F_DR_Y,F_DR_E],[F_DW_X,F_DW_Y,F_DW_E]], b:[F_BASE_X,F_BASE_Y,F_BASE_E],
  px:[819.3,1178], py:[403,686], xr:[0,4.337], yr:[1.4482,3.193], dx:0.5, dy:0.5, leg:[932.3,406.7], cap:[1005,745], sci:[1164,716]},
 {d:[[G_CBGZ_X,G_CBGZ_Y,G_CBGZ_E],[G_RAND_X,G_RAND_Y,G_RAND_E],[G_BBQ_X,G_BBQ_Y,G_BBQ_E],[G_DR_X,G_DR_Y,G_DR_E],[G_DW_X,G_DW_Y,G_DW_E]], b:[G_BASE_X,G_BASE_Y,G_BASE_E],
  px:[28.3,388], py:[797,1082], xr:[0,2.411], yr:[2.0141,4.0211], dx:0.5, dy:0.2, leg:[141.7,802.7], cap:[208,1141], sci:[373,1112]},
 {d:[[H_CBGZ_X,H_CBGZ_Y,H_CBGZ_E],[H_RAND_X,H_RAND_Y,H_RAND_E],[H_BBQ_X,H_BBQ_Y,H_BBQ_E],[H_DR_X,H_DR_Y,H_DR_E],[H_DW_X,H_DW_Y,H_DW_E]], b:[H_BASE_X,H_BASE_Y,H_BASE_E],
  px:[424,774.3], py:[825,1101.7], xr:[0,15100], yr:[1.329,5.3218], dx:5000, dy:0.5, leg:[533.3,828.3], cap:[600,1141]},
 {d:[[I_CBGZ_X,I_CBGZ_Y,I_CBGZ_E],[I_RAND_X,I_RAND_Y,I_RAND_E],[I_BBQ_X,I_BBQ_Y,I_BBQ_E],[I_DR_X,I_DR_Y,I_DR_E],[I_DW_X,I_DW_Y,I_DW_E]], b:[I_BASE_X,I_BASE_Y,I_BASE_E],
  px:[819.3,1170], py:[825,1101.7], xr:[0,15140], yr:[2.1375,6.1448], dx:5000, dy:0.5, leg:[929.3,828.3], cap:[994,1141]},
 {d:[[J_CBGZ_X,J_CBGZ_Y,J_CBGZ_E],[J_RAND_X,J_RAND_Y,J_RAND_E],[J_BBQ_X,J_BBQ_Y,J_BBQ_E],[J_DR_X,J_DR_Y,J_DR_E],[J_DW_X,J_DW_Y,J_DW_E]], b:[J_BASE_X,J_BASE_Y,J_BASE_E],
  px:[28.3,378], py:[1190,1468], xr:[0,15100], yr:[2.105,6.105], dx:5000, dy:0.5, leg:[138.3,1195], cap:[202,1508]},
 {d:[[K_CBGZ_X,K_CBGZ_Y,K_CBGZ_E],[K_RAND_X,K_RAND_Y,K_RAND_E],[K_BBQ_X,K_BBQ_Y,K_BBQ_E],[K_DR_X,K_DR_Y,K_DR_E],[K_DW_X,K_DW_Y,K_DW_E]], b:[K_BASE_X,K_BASE_Y,K_BASE_E],
  px:[424.3,773.3], py:[1190,1468], xr:[0,15100], yr:[2.6194,6.619], dx:5000, dy:0.5, leg:[533.3,1195], cap:[600,1508]},
 {d:[[L_CBGZ_X,L_CBGZ_Y,L_CBGZ_E],[L_RAND_X,L_RAND_Y,L_RAND_E],[L_BBQ_X,L_BBQ_Y,L_BBQ_E],[L_DR_X,L_DR_Y,L_DR_E],[L_DW_X,L_DW_Y,L_DW_E]], b:[L_BASE_X,L_BASE_Y,L_BASE_E],
  px:[819.3,1168], py:[1190,1468], xr:[0,15100], yr:[1.6914,5.6871], dx:5000, dy:0.5, leg:[929.3,1195], cap:[993,1508]}
];

const TICKFONT={family:'Liberation Sans, Arial, Helvetica, sans-serif', size:12, color:'#000'};
const traces=[];
const layout={width:W, height:H, margin:{l:0,r:0,t:0,b:0}, paper_bgcolor:'#fff', plot_bgcolor:'#fff', showlegend:true, annotations:[], separators:'.'};

PANELS.forEach((p,i)=>{
  const n=i+1, suf=(n===1?'':String(n));
  const xref='x'+suf, yref='y'+suf, legName='legend'+suf;
  const gridCommon={showline:true, linecolor:'#000', linewidth:1, showgrid:true, gridcolor:'#9a9a9a', griddash:'dot', gridwidth:1,
    zeroline:false, ticks:'', tickfont:TICKFONT, exponentformat:'none', separatethousands:false, fixedrange:true, tick0:0};
  const xa=Object.assign({}, gridCommon, {domain:[p.px[0]/W, p.px[1]/W], range:p.xr, dtick:p.dx, anchor:yref});
  if(p.dx>=1000) xa.tickformat='d';
  layout['xaxis'+suf]=xa;
  layout['yaxis'+suf]=Object.assign({}, gridCommon, {domain:[1-p.py[1]/H, 1-p.py[0]/H], range:p.yr, dtick:p.dy, anchor:xref});
  layout[legName]={x:p.leg[0]/W, y:1-p.leg[1]/H, xanchor:'left', yanchor:'top', xref:'paper', yref:'paper',
    bgcolor:'#fff', bordercolor:'#000', borderwidth:1, font:{family:'Liberation Sans, Arial, sans-serif', size:12, color:'#000'},
    itemwidth:30, tracegroupgap:0, traceorder:'normal'};
  // baseline (dashed grey) + its error bar at the right end
  const bx=p.b[0], by=p.b[1], be=p.b[2];
  traces.push({x:bx, y:by, xaxis:xref, yaxis:yref, mode:'lines', showlegend:false, hoverinfo:'skip',
    line:{color:'#9a9a9a', width:2.5, dash:'5px,4px'}});
  traces.push({x:[bx[bx.length-1]], y:[by[by.length-1]], xaxis:xref, yaxis:yref, mode:'markers', showlegend:false, hoverinfo:'skip',
    marker:{size:1, color:'rgba(0,0,0,0)'}, error_y:{type:'data', array:be, color:'#9a9a9a', thickness:2.5, width:3}});
  p.d.forEach((s,k)=>{
    const st=STYLES[k];
    traces.push({x:s[0], y:s[1], xaxis:xref, yaxis:yref, name:SERIES_NAMES[k], legend:legName, mode:'lines+markers',
      line:{color:st.color, width:2},
      marker:{symbol:st.symbol, size:st.size, color:(st.fill||st.color), line:{color:st.color, width:st.lw}},
      error_y:{type:'data', array:s[2], color:st.err, thickness:1, width:3}});
  });
  layout.annotations.push({text:CAPTIONS[i], x:p.cap[0]/W, y:1-p.cap[1]/H, xref:'paper', yref:'paper', xanchor:'center', yanchor:'middle', showarrow:false,
    font:{family:'Liberation Serif, Times New Roman, serif', size:23, color:'#000'}});
  if(p.sci){
    layout.annotations.push({text:'x 10<sup>5</sup>', x:p.sci[0]/W, y:1-p.sci[1]/H, xref:'paper', yref:'paper', xanchor:'center', yanchor:'middle', showarrow:false,
      font:{family:'Liberation Sans, Arial, sans-serif', size:11, color:'#000'}});
  }
});

Plotly.newPlot('chart', traces, layout, {staticPlot:true, displayModeBar:false});
</script>
</body></html>
